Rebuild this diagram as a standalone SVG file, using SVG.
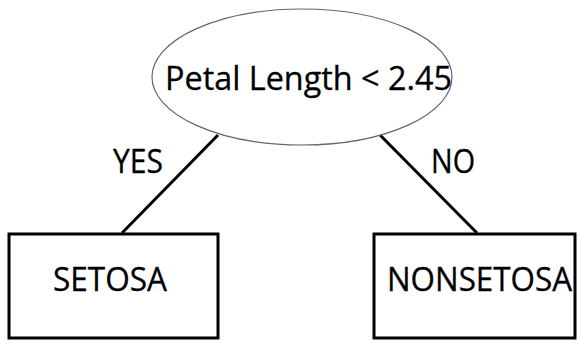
<svg xmlns="http://www.w3.org/2000/svg" width="578" height="342" viewBox="0 0 578 342">
  <style>
    .lbl { font-family: "Open Sans", "Noto Sans", "Liberation Sans", sans-serif; font-size: 32px; fill: #000; stroke: #000; stroke-width: 0.3; }
    .box { fill: #fff; stroke: #000; stroke-width: 3; }
    .edge { stroke: #000; stroke-width: 3; fill: none; }
  </style>
  <rect width="578" height="342" fill="#fff"/>
  <g id="connectors">
    <line class="edge" x1="218" y1="135" x2="122" y2="233"/>
    <line class="edge" x1="380" y1="135" x2="477" y2="233"/>
    <text class="lbl" x="113" y="173" textLength="50" lengthAdjust="spacingAndGlyphs">YES</text>
    <text class="lbl" x="431" y="173" textLength="44" lengthAdjust="spacingAndGlyphs">NO</text>
  </g>
  <g id="root">
    <ellipse cx="302" cy="77" rx="150" ry="68" fill="#fff" stroke="#666" stroke-width="1.2"/>
    <text class="lbl" x="165" y="90" font-size="33" textLength="287" lengthAdjust="spacingAndGlyphs">Petal Length &lt; 2.45</text>
  </g>
  <g id="setosa">
    <rect class="box" x="9" y="234" width="209" height="104"/>
    <text class="lbl" x="53" y="291" textLength="114" lengthAdjust="spacingAndGlyphs">SETOSA</text>
  </g>
  <g id="nonsetosa">
    <rect class="box" x="374" y="234" width="201" height="104"/>
    <text class="lbl" x="387" y="291" textLength="185" lengthAdjust="spacingAndGlyphs">NONSETOSA</text>
  </g>
</svg>
